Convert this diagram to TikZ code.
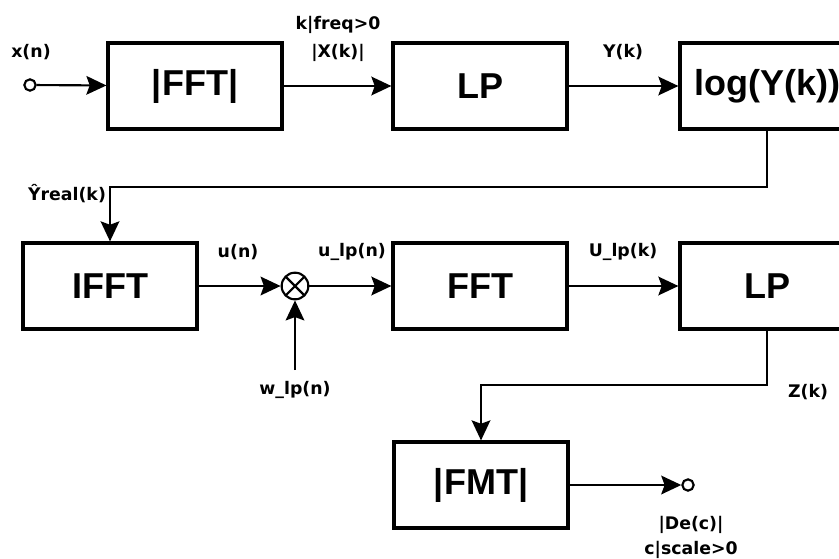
\documentclass[tikz,border=0pt]{standalone}
\usepackage{fontspec}
\setmainfont{Liberation Sans}
\newfontfamily\lblfont{DejaVu Sans}
\usetikzlibrary{arrows.meta}
\tikzset{every picture/.style={line width=1.6pt}}
\tikzset{
  blk/.style={draw, line width=2.4pt, minimum width=130.5pt, minimum height=64.5pt, inner sep=0pt,
    font=\fontsize{27}{31}\selectfont\bfseries},
  sig/.style={inner sep=0pt, font=\lblfont\fontsize{13}{15}\selectfont\bfseries},
  port/.style={draw, circle, minimum size=8.5pt, inner sep=0pt},
  mixer/.style={draw, circle, minimum size=20pt, inner sep=0pt,
    path picture={\draw (path picture bounding box.north west) -- (path picture bounding box.south east)
      (path picture bounding box.south west) -- (path picture bounding box.north east);}},
  flow/.style={-{Stealth[length=15pt,width=14pt,inset=2.5pt]}}
}

\begin{document}
\begin{tikzpicture}[x=0.75pt,y=-0.75pt]
\useasboundingbox (0,0) rectangle (839,558);
\node[port] (xin) at (30,85) {};
\node[sig] (xlbl) at (31,52) {x(n)};
\node[blk] (fft1) at (195,86) {|FFT|};
\node[blk] (lp1) at (480,86) {LP};
\node[blk] (logy) at (767,86) {log(Y(k))};
\node[sig] (kfreq) at (338,25) {k|freq>0};
\node[sig] (xabs) at (338,53) {|X(k)|};
\node[sig] (ylbl) at (623,52) {Y(k)};
\draw[flow] (xin) -- (fft1);
\draw[flow] (fft1) -- (lp1);
\draw[flow] (lp1) -- (logy);
\node[sig] (yreal) at (67,194) {Ŷreal(k)};
\node[blk] (ifft) at (110,286) {IFFT};
\node[mixer] (mix) at (295,286) {};
\node[blk] (fft2) at (480,286) {FFT};
\node[blk] (lp2) at (767,286) {LP};
\node[sig] (ulbl) at (238,252) {u(n)};
\node[sig] (ulplbl) at (352,252) {u\_lp(n)};
\node[sig] (Ulplbl) at (623,252) {U\_lp(k)};
\coordinate (wsrc) at (295,370);
\node[sig] (wlbl) at (295,390) {w\_lp(n)};
\draw[flow] (logy.south) -- ++(0,56) -| (ifft.north);
\draw[flow] (ifft) -- (mix);
\draw[flow] (wsrc) -- (mix);
\draw[flow] (mix) -- (fft2);
\draw[flow] (fft2) -- (lp2);
\node[blk] (fmt) at (481,485) {|FMT|};
\node[sig] (zlbl) at (808,392) {Z(k)};
\node[port] (yout) at (688,485) {};
\node[sig] (declbl) at (691,525) {|De(c)|};
\node[sig] (scalelbl) at (691,550) {c|scale>0};
\draw[flow] (lp2.south) -- ++(0,54) -| (fmt.north);
\draw[flow] (fmt) -- (yout);
\end{tikzpicture}
\end{document}
